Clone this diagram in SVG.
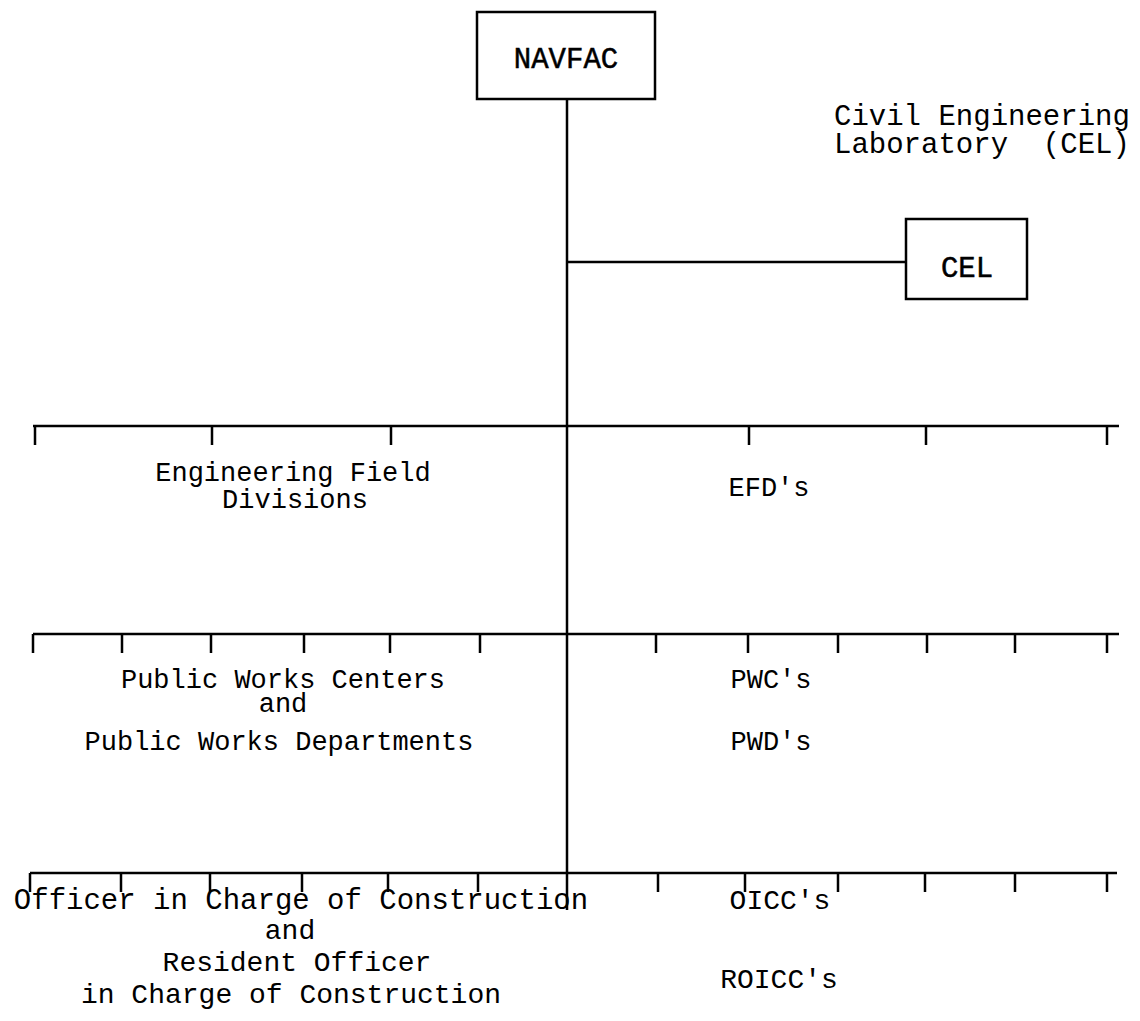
<svg xmlns="http://www.w3.org/2000/svg" width="1140" height="1021" viewBox="0 0 1140 1021">
<style>
.box{fill:#fff;stroke:#000;stroke-width:2.5}
.ln{stroke:#000;stroke-width:2.5;fill:none}
.tk{stroke:#000;stroke-width:2.5}
text{font-family:"Liberation Mono","Courier New",monospace;font-size:28px;fill:#000}
.c{text-anchor:middle}
.m{font-size:27px}
.b{stroke:#000;stroke-width:0.5}
</style>
<rect width="1140" height="1021" fill="#fff"/>
<g id="connectors">
<path class="ln" d="M567,99 V910"/>
<path class="ln" d="M567,262 H906"/>
<path class="ln" d="M33,426 H1119"/>
<path class="ln" d="M33,634 H1119"/>
<path class="ln" d="M30,873 H1117"/>
<path class="tk" d="M35,426 v19 M212,426 v19 M391,426 v19 M749,426 v19 M926,426 v19 M1107,426 v19"/>
<path class="tk" d="M33,634 v19 M122,634 v19 M211,634 v19 M304,634 v19 M390,634 v19 M480,634 v19 M656,634 v19 M748,634 v19 M838,634 v19 M927,634 v19 M1015,634 v19 M1107,634 v19"/>
<path class="tk" d="M30,873 v19 M121,873 v19 M210,873 v19 M302,873 v19 M388,873 v19 M478,873 v19 M658,873 v19 M745,873 v19 M838,873 v19 M925,873 v19 M1015,873 v19 M1107,873 v19"/>
</g>
<g id="navfac">
<rect class="box" x="477" y="12" width="178" height="87"/>
<text class="c b" x="566" y="68" style="font-size:29px">NAVFAC</text>
</g>
<g id="cel">
<rect class="box" x="906" y="219" width="121" height="80"/>
<text class="c b" x="967" y="277" style="font-size:29px">CEL</text>
</g>
<g id="cel-label">
<text x="834" y="125" style="font-size:29px">Civil Engineering</text>
<text x="834" y="153" style="font-size:29px" xml:space="preserve">Laboratory  (CEL)</text>
</g>
<g id="efd">
<text class="c m" x="293" y="481">Engineering Field</text>
<text class="c m" x="295" y="508">Divisions</text>
<text class="c m" x="769" y="496">EFD's</text>
</g>
<g id="pwc">
<text class="c m" x="283" y="688">Public Works Centers</text>
<text class="c m" x="283" y="712">and</text>
<text class="c m" x="279" y="750">Public Works Departments</text>
<text class="c m" x="771" y="688">PWC's</text>
<text class="c m" x="771" y="750">PWD's</text>
</g>
<g id="oicc">
<text class="c" x="301" y="909" style="font-size:29px">Officer in Charge of Construction</text>
<text class="c" x="290" y="939">and</text>
<text class="c" x="297" y="971">Resident Officer</text>
<text class="c" x="291" y="1003">in Charge of Construction</text>
<text class="c" x="780" y="909">OICC's</text>
<text class="c" x="779" y="988">ROICC's</text>
</g>
</svg>
